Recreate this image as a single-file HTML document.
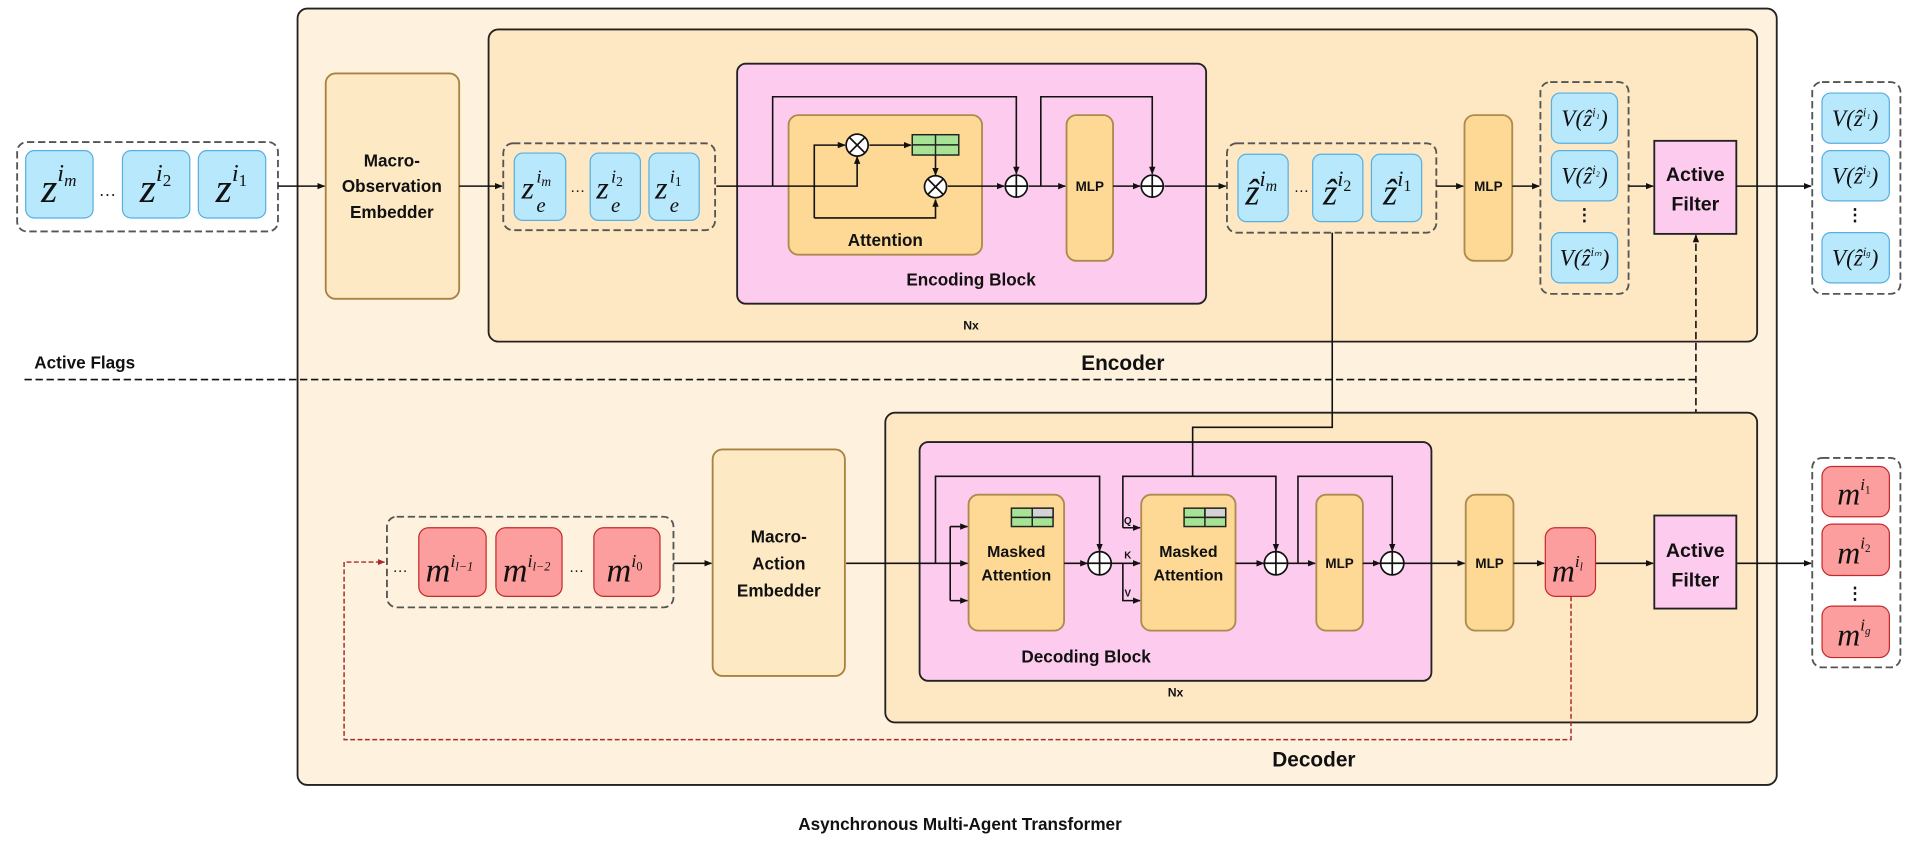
<!DOCTYPE html>
<html><head><meta charset="utf-8"><style>
html,body{margin:0;padding:0;background:#fff;}
svg{display:block;}
.b{font-family:"Liberation Sans",sans-serif;font-weight:bold;fill:#111;text-anchor:middle;}
.m{font-family:"Liberation Serif",serif;font-style:italic;fill:#111;text-anchor:middle;}
.s{font-family:"Liberation Serif",serif;font-style:italic;fill:#111;text-anchor:start;}
</style></head><body>
<svg width="1920" height="847" viewBox="0 0 1568 691.7" xmlns="http://www.w3.org/2000/svg">
<defs>
<marker id="a" viewBox="0 0 10 10" refX="9" refY="5" markerWidth="5" markerHeight="5" orient="auto-start-reverse"><path d="M0,1 L10,5 L0,9 z" fill="#111"/></marker>
<marker id="r" viewBox="0 0 10 10" refX="9" refY="5" markerWidth="5" markerHeight="5" orient="auto"><path d="M0,1 L10,5 L0,9 z" fill="#a52a2a"/></marker>
</defs>
<!-- outer -->
<rect x="243" y="7" width="1208" height="634" rx="8" fill="#fef2df" stroke="#222" stroke-width="1.5"/>
<!-- encoder -->
<rect x="399" y="24" width="1036" height="255" rx="8" fill="#fee8c3" stroke="#222" stroke-width="1.5"/>
<text class="b" x="917" y="302" font-size="17">Encoder</text>
<rect x="602" y="52" width="383" height="196" rx="7" fill="#fdcbee" stroke="#222" stroke-width="1.5"/>
<rect x="644" y="94" width="158" height="114" rx="8" fill="#fdd995" stroke="#ad8a4e" stroke-width="1.5"/>
<text class="b" x="723" y="201" font-size="14">Attention</text>
<text class="b" x="793" y="233" font-size="14">Encoding Block</text>
<text class="b" x="793" y="269" font-size="10">Nx</text>
<rect x="871" y="94" width="38" height="119" rx="8" fill="#fdd995" stroke="#ad8a4e" stroke-width="1.5"/>
<text class="b" x="890" y="156" font-size="11">MLP</text>
<!-- encoding block lines -->
<g stroke="#111" stroke-width="1.3" fill="none">
<path d="M585,152 H700 V128" marker-end="url(#a)"/>
<path d="M665,178 V118.5 H690" marker-end="url(#a)"/>
<path d="M665,178 H764 V163" marker-end="url(#a)"/>
<path d="M710,118.5 H744" marker-end="url(#a)"/>
<path d="M764,127 V143" marker-end="url(#a)"/>
<path d="M774,152 H820" marker-end="url(#a)"/>
<path d="M631,152 V79 H830 V142" marker-end="url(#a)"/>
<path d="M840,152 H870" marker-end="url(#a)"/>
<path d="M850,152 V79 H941 V142"  marker-end="url(#a)"/>
<path d="M909,152 H931" marker-end="url(#a)"/>
<path d="M951,152 H1001" marker-end="url(#a)"/>
</g>
<rect x="745" y="110" width="38" height="16.6" fill="#a6e394" stroke="#222" stroke-width="1.2"/>
<path d="M764,110 V126.6 M745,118.3 H783" stroke="#222" stroke-width="1.2"/>
<g stroke="#111" stroke-width="1.4" fill="#fff">
<circle cx="700" cy="118.5" r="9"/><circle cx="764" cy="152.5" r="9"/>
<circle cx="830" cy="152" r="9"/><circle cx="941" cy="152" r="9"/>
</g>
<path d="M693.6,112.1 L706.4,124.9 M706.4,112.1 L693.6,124.9 M757.6,146.1 L770.4,158.9 M770.4,146.1 L757.6,158.9 M821,152 H839 M830,143 V161 M932,152 H950 M941,143 V161" stroke="#111" stroke-width="1.4"/>
<!-- input group -->
<rect x="14" y="116" width="213" height="73" rx="8" fill="none" stroke="#555" stroke-width="1.5" stroke-dasharray="6,3"/>
<g fill="#b8e8fb" stroke="#5aaee0" stroke-width="1">
<rect x="21" y="123" width="55" height="55" rx="7"/><rect x="100" y="123" width="55" height="55" rx="7"/><rect x="162" y="123" width="55" height="55" rx="7"/>
<rect x="420" y="125" width="42" height="55" rx="7"/><rect x="482" y="125" width="41" height="55" rx="7"/><rect x="530" y="125" width="41" height="55" rx="7"/>
<rect x="1011" y="126" width="41" height="55" rx="7"/><rect x="1072" y="126" width="41" height="55" rx="7"/><rect x="1120" y="126" width="41" height="55" rx="7"/>
<rect x="1267" y="76" width="54" height="41" rx="7"/><rect x="1267" y="123" width="54" height="41" rx="7"/><rect x="1267" y="190" width="54" height="41" rx="7"/>
<rect x="1488" y="76" width="55" height="41" rx="7"/><rect x="1488" y="123" width="55" height="41" rx="7"/><rect x="1488" y="190" width="55" height="41" rx="7"/>
</g>
<text class="m" x="48" y="165" font-size="34">z<tspan font-size="20" dy="-17">i</tspan><tspan font-size="14" dy="4">m</tspan></text>
<text class="m" x="88" y="160" font-size="14">…</text>
<text class="m" x="127" y="165" font-size="34">z<tspan font-size="20" dy="-17">i</tspan><tspan font-size="14" dy="4" font-style="normal">2</tspan></text>
<text class="m" x="189" y="165" font-size="34">z<tspan font-size="20" dy="-17">i</tspan><tspan font-size="14" dy="4" font-style="normal">1</tspan></text>
<path d="M227,152 H265" stroke="#111" stroke-width="1.3" marker-end="url(#a)"/>
<rect x="266" y="60" width="109" height="184" rx="8" fill="#fde9c4" stroke="#a8823f" stroke-width="1.5"/>
<text class="b" x="320" y="136" font-size="14">Macro-</text>
<text class="b" x="320" y="157" font-size="14">Observation</text>
<text class="b" x="320" y="178" font-size="14">Embedder</text>
<path d="M375,152 H410" stroke="#111" stroke-width="1.3" marker-end="url(#a)"/>
<rect x="411" y="117" width="173" height="71" rx="8" fill="none" stroke="#555" stroke-width="1.5" stroke-dasharray="6,3"/>
<!-- z_e cells -->
<text class="s" x="426" y="162" font-size="26">z</text><text class="s" x="438" y="149" font-size="15">i<tspan font-size="11" dy="3">m</tspan></text><text class="s" x="438" y="173" font-size="17">e</text>
<text class="m" x="472" y="157" font-size="12">…</text>
<text class="s" x="487" y="162" font-size="26">z</text><text class="s" x="499" y="149" font-size="15">i<tspan font-size="11" dy="3" font-style="normal">2</tspan></text><text class="s" x="499" y="173" font-size="17">e</text>
<text class="s" x="535" y="162" font-size="26">z</text><text class="s" x="547" y="149" font-size="15">i<tspan font-size="11" dy="3" font-style="normal">1</tspan></text><text class="s" x="547" y="173" font-size="17">e</text>
<!-- z hat -->
<rect x="1002" y="117" width="171" height="73" rx="8" fill="none" stroke="#555" stroke-width="1.5" stroke-dasharray="6,3"/>
<text class="m" x="1030" y="167" font-size="30">ẑ<tspan font-size="18" dy="-15">i</tspan><tspan font-size="13" dy="4">m</tspan></text>
<text class="m" x="1063" y="157" font-size="12">…</text>
<text class="m" x="1092" y="167" font-size="30">ẑ<tspan font-size="18" dy="-15">i</tspan><tspan font-size="13" dy="4" font-style="normal">2</tspan></text>
<text class="m" x="1141" y="167" font-size="30">ẑ<tspan font-size="18" dy="-15">i</tspan><tspan font-size="13" dy="4" font-style="normal">1</tspan></text>
<path d="M1173,152 H1195" stroke="#111" stroke-width="1.3" marker-end="url(#a)"/>
<rect x="1196" y="94" width="39" height="119" rx="8" fill="#fdd995" stroke="#ad8a4e" stroke-width="1.5"/>
<text class="b" x="1215.5" y="156" font-size="11">MLP</text>
<path d="M1235,152 H1257" stroke="#111" stroke-width="1.3" marker-end="url(#a)"/>
<rect x="1258" y="67" width="72" height="173" rx="8" fill="none" stroke="#555" stroke-width="1.5" stroke-dasharray="6,3"/>
<g class="m" font-size="19">
<text class="m" x="1294" y="103">V(ẑ<tspan font-size="10" dy="-8">i₁</tspan><tspan dy="8">)</tspan></text>
<text class="m" x="1294" y="150">V(ẑ<tspan font-size="10" dy="-8">i₂</tspan><tspan dy="8">)</tspan></text>
<text class="m" x="1294" y="217">V(ẑ<tspan font-size="10" dy="-8">iₘ</tspan><tspan dy="8">)</tspan></text>
<text class="m" x="1515" y="103">V(ẑ<tspan font-size="10" dy="-8">i₁</tspan><tspan dy="8">)</tspan></text>
<text class="m" x="1515" y="150">V(ẑ<tspan font-size="10" dy="-8">i₂</tspan><tspan dy="8">)</tspan></text>
<text class="m" x="1515" y="217">V(ẑ<tspan font-size="10" dy="-8">i<tspan font-size="7">g</tspan></tspan><tspan dy="8">)</tspan></text>
</g>
<text class="b" x="1294" y="180" font-size="14">⋮</text>
<text class="b" x="1515" y="180" font-size="14">⋮</text>
<path d="M1330,152 H1350" stroke="#111" stroke-width="1.3" marker-end="url(#a)"/>
<rect x="1351" y="115" width="67" height="76" fill="#fdcbee" stroke="#222" stroke-width="1.5"/>
<text class="b" x="1384.5" y="148" font-size="16">Active</text>
<text class="b" x="1384.5" y="172" font-size="16">Filter</text>
<path d="M1418,152 H1479" stroke="#111" stroke-width="1.3" marker-end="url(#a)"/>
<rect x="1480" y="67" width="72" height="173" rx="8" fill="none" stroke="#555" stroke-width="1.5" stroke-dasharray="6,3"/>
<!-- active flags -->
<text class="b" x="28" y="301" font-size="14" style="text-anchor:start">Active Flags</text>
<path d="M20,310 H1385" stroke="#111" stroke-width="1.3" stroke-dasharray="6,3" fill="none"/>
<path d="M1385,421 V192" stroke="#111" stroke-width="1.3" stroke-dasharray="6,3" fill="none" marker-start="url(#a)" marker-end="url(#a)"/>
<!-- decoder -->
<rect x="723" y="337" width="712" height="253" rx="8" fill="#fee8c3" stroke="#222" stroke-width="1.5"/>
<text class="b" x="1073" y="626" font-size="17">Decoder</text>
<rect x="751" y="361" width="418" height="195" rx="7" fill="#fdcbee" stroke="#222" stroke-width="1.5"/>
<text class="b" x="887" y="541" font-size="14">Decoding Block</text>
<text class="b" x="960" y="569" font-size="10">Nx</text>
<path d="M1088,190 V349 H974 V389" stroke="#111" stroke-width="1.3" fill="none"/>
<rect x="791" y="404" width="78" height="111" rx="8" fill="#fdd995" stroke="#ad8a4e" stroke-width="1.5"/>
<rect x="932" y="404" width="77" height="111" rx="8" fill="#fdd995" stroke="#ad8a4e" stroke-width="1.5"/>
<rect x="1075" y="404" width="38" height="111" rx="8" fill="#fdd995" stroke="#ad8a4e" stroke-width="1.5"/>
<rect x="1197" y="404" width="39" height="111" rx="8" fill="#fdd995" stroke="#ad8a4e" stroke-width="1.5"/>
<text class="b" x="830" y="455" font-size="13">Masked</text><text class="b" x="830" y="474" font-size="13">Attention</text>
<text class="b" x="970.5" y="455" font-size="13">Masked</text><text class="b" x="970.5" y="474" font-size="13">Attention</text>
<text class="b" x="1094" y="464" font-size="11">MLP</text>
<text class="b" x="1216.5" y="464" font-size="11">MLP</text>
<g stroke="#222" stroke-width="1.2">
<rect x="826" y="415" width="34" height="15" fill="#a6e394"/><rect x="843" y="415" width="17" height="7.5" fill="#d3d3d3"/><path d="M843,415 V430 M826,422.5 H860"/>
<rect x="967" y="415" width="34" height="15" fill="#a6e394"/><rect x="984" y="415" width="17" height="7.5" fill="#d3d3d3"/><path d="M984,415 V430 M967,422.5 H1001"/>
</g>
<g stroke="#111" stroke-width="1.3" fill="none">
<path d="M691,460 H790" marker-end="url(#a)"/>
<path d="M776,430 V490.5"/>
<path d="M776,430 H790" marker-end="url(#a)"/>
<path d="M776,490.5 H790" marker-end="url(#a)"/>
<path d="M764,460 V389 H898 V450" marker-end="url(#a)"/>
<path d="M869,460 H888" marker-end="url(#a)"/>
<path d="M908,460 H931" marker-end="url(#a)"/>
<path d="M917,460 V490.5 H931" marker-end="url(#a)"/>
<path d="M917,431 V389 H1042 V450" marker-end="url(#a)"/>
<path d="M917,431 H931" marker-end="url(#a)"/>
<path d="M1009,460 H1032" marker-end="url(#a)"/>
<path d="M1052,460 H1074" marker-end="url(#a)"/>
<path d="M1060,460 V389 H1137 V450" marker-end="url(#a)"/>
<path d="M1113,460 H1127" marker-end="url(#a)"/>
<path d="M1147,460 H1196" marker-end="url(#a)"/>
<path d="M1236,460 H1261" marker-end="url(#a)"/>
<path d="M1303,460 H1350" marker-end="url(#a)"/>
<path d="M1418,460 H1479" marker-end="url(#a)"/>
<path d="M550,460 H581" marker-end="url(#a)"/>
</g>
<g stroke="#111" stroke-width="1.4" fill="#fff">
<circle cx="898" cy="460" r="9.5"/><circle cx="1042" cy="460" r="9.5"/><circle cx="1137" cy="460" r="9.5"/>
</g>
<path d="M888.5,460 H907.5 M898,450.5 V469.5 M1032.5,460 H1051.5 M1042,450.5 V469.5 M1127.5,460 H1146.5 M1137,450.5 V469.5" stroke="#111" stroke-width="1.4"/>
<text class="b" x="921" y="428" font-size="8">Q</text>
<text class="b" x="921" y="456" font-size="8">K</text>
<text class="b" x="921" y="487" font-size="8">V</text>
<!-- m cells -->
<g fill="#fc9e9e" stroke="#c42a2a" stroke-width="1">
<rect x="342" y="431" width="55" height="56" rx="8"/><rect x="405" y="431" width="54" height="56" rx="8"/><rect x="485" y="431" width="54" height="56" rx="8"/>
<rect x="1262" y="431" width="41" height="56" rx="8"/>
<rect x="1488" y="381" width="55" height="41" rx="8"/><rect x="1488" y="428" width="55" height="42" rx="8"/><rect x="1488" y="495" width="55" height="42" rx="8"/>
</g>
<rect x="316" y="422" width="234" height="74" rx="8" fill="none" stroke="#555" stroke-width="1.5" stroke-dasharray="6,3"/>
<rect x="1480" y="374" width="72" height="171" rx="8" fill="none" stroke="#555" stroke-width="1.5" stroke-dasharray="6,3"/>
<text class="m" x="367" y="475" font-size="28">m<tspan font-size="15" dy="-12">i</tspan><tspan font-size="10" dy="3">l−1</tspan></text>
<text class="m" x="430" y="475" font-size="28">m<tspan font-size="15" dy="-12">i</tspan><tspan font-size="10" dy="3">l−2</tspan></text>
<text class="m" x="510" y="475" font-size="28">m<tspan font-size="15" dy="-12">i</tspan><tspan font-size="10" dy="3" font-style="normal">0</tspan></text>
<text class="m" x="327" y="467" font-size="12">…</text>
<text class="m" x="471" y="467" font-size="12">…</text>
<text class="m" x="1280" y="475" font-size="26">m<tspan font-size="14" dy="-12">i</tspan><tspan font-size="9" dy="3">l</tspan></text>
<text class="m" x="1514" y="412" font-size="26">m<tspan font-size="14" dy="-12">i</tspan><tspan font-size="9" dy="3" font-style="normal">1</tspan></text>
<text class="m" x="1514" y="460" font-size="26">m<tspan font-size="14" dy="-12">i</tspan><tspan font-size="9" dy="3" font-style="normal">2</tspan></text>
<text class="m" x="1514" y="527" font-size="26">m<tspan font-size="14" dy="-12">i</tspan><tspan font-size="9" dy="3">g</tspan></text>
<text class="b" x="1515" y="489" font-size="14">⋮</text>
<rect x="582" y="367" width="108" height="185" rx="8" fill="#fde9c4" stroke="#a8823f" stroke-width="1.5"/>
<text class="b" x="636" y="443" font-size="14">Macro-</text>
<text class="b" x="636" y="465" font-size="14">Action</text>
<text class="b" x="636" y="487" font-size="14">Embedder</text>
<rect x="1351" y="421" width="67" height="76" fill="#fdcbee" stroke="#222" stroke-width="1.5"/>
<text class="b" x="1384.5" y="455" font-size="16">Active</text>
<text class="b" x="1384.5" y="479" font-size="16">Filter</text>
<path d="M1283,487 V604 H281 V459 H314" stroke="#a52a2a" stroke-width="1.2" stroke-dasharray="4,2" fill="none" marker-end="url(#r)"/>
<text class="b" x="784" y="678" font-size="14">Asynchronous Multi-Agent Transformer</text>
</svg>
</body></html>
